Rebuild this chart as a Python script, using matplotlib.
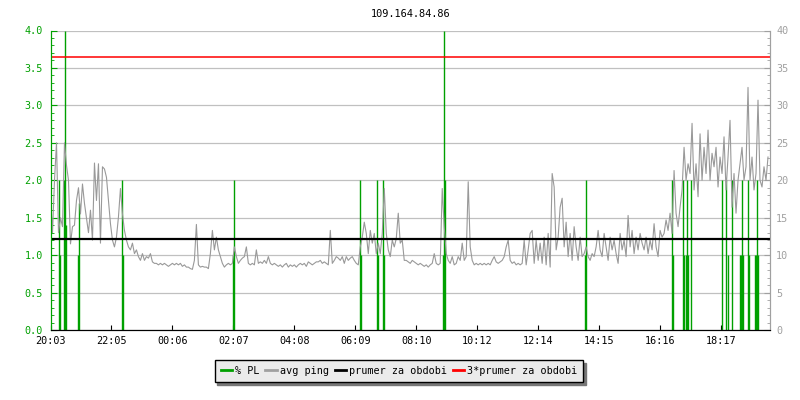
"""Packet loss and average ping for 109.164.84.86 over one day."""
import matplotlib

matplotlib.use("Agg")
import matplotlib.pyplot as plt
import numpy as np
from matplotlib.ticker import MultipleLocator, FormatStrFormatter

# ----------------
# data begin
title = "109.164.84.86"

# tick labels, one every 122 minutes starting at 20:03
time_labels = ["20:03", "22:05", "00:06", "02:07", "04:08", "06:09",
               "08:10", "10:12", "12:14", "14:15", "16:16", "18:17"]
tick_step_min = 122
span_min = 1440

# avg ping [ms], one sample every 4 minutes from 20:03
ping_step_min = 4
avg_ping = [
    18.0, 13.0, 20.0, 25.0, 13.0, 15.0, 13.8, 25.0, 22.0, 20.0, 11.5, 13.8, 14.0, 17.3, 19.0, 15.5, 19.5, 16.9, 15.0, 13.0,
    16.0, 12.0, 22.3, 17.3, 22.2, 11.6, 21.8, 21.5, 20.4, 17.3, 14.2, 12.0, 11.1, 12.4, 15.1, 18.9, 15.5, 13.3, 12.0, 11.1,
    10.7, 11.6, 10.2, 10.7, 9.8, 9.3, 10.2, 9.3, 9.8, 9.6, 10.2, 9.1, 8.9, 8.9, 8.7, 8.9, 8.7, 8.9, 8.7, 8.5,
    8.7, 8.9, 8.7, 8.9, 8.7, 8.9, 8.5, 8.7, 8.4, 8.4, 8.2, 8.1, 9.3, 14.1, 8.7, 8.4, 8.5, 8.4, 8.4, 8.2,
    10.2, 13.3, 10.7, 12.4, 10.7, 9.8, 8.9, 8.4, 8.7, 8.9, 8.7, 8.9, 11.1, 9.8, 8.9, 9.3, 9.6, 9.8, 11.1, 8.9,
    8.7, 8.9, 8.7, 10.7, 8.9, 9.1, 8.9, 9.3, 8.9, 9.8, 8.9, 8.7, 8.9, 8.7, 8.5, 8.7, 8.4, 8.7, 8.9, 8.4,
    8.7, 8.5, 8.7, 8.4, 8.7, 8.9, 8.7, 8.9, 8.5, 9.1, 8.9, 8.7, 8.9, 9.1, 9.1, 9.3, 8.9, 9.1, 8.9, 8.7,
    13.3, 8.9, 9.3, 9.8, 9.6, 9.3, 9.8, 8.9, 9.8, 9.3, 9.6, 9.8, 9.3, 8.9, 8.7, 11.1, 12.4, 14.4, 12.9, 10.2,
    13.3, 11.6, 12.9, 10.2, 11.6, 10.2, 12.9, 18.9, 12.9, 10.7, 9.8, 12.0, 11.1, 12.2, 15.6, 11.6, 12.0, 9.3, 9.3, 9.1,
    8.9, 9.3, 9.1, 8.9, 8.7, 8.9, 8.7, 8.5, 8.7, 8.4, 8.7, 8.9, 10.2, 8.9, 8.7, 8.9, 18.9, 13.8, 10.2, 9.3,
    8.9, 9.8, 8.7, 8.9, 9.8, 9.3, 11.6, 9.3, 9.8, 19.8, 11.1, 9.3, 8.7, 8.9, 8.7, 8.9, 8.7, 8.9, 8.7, 8.9,
    8.7, 9.3, 9.8, 9.1, 8.9, 9.1, 9.3, 9.8, 11.1, 12.0, 9.3, 8.9, 9.1, 8.7, 8.9, 8.7, 8.9, 12.0, 8.7, 10.7,
    12.9, 13.3, 8.9, 12.0, 9.3, 11.6, 8.9, 12.4, 8.7, 12.9, 8.4, 20.9, 19.1, 10.7, 12.4, 16.4, 17.6, 11.1, 14.4, 9.8,
    12.9, 9.3, 13.8, 11.1, 9.3, 12.4, 9.8, 10.2, 11.1, 9.8, 9.3, 10.2, 9.8, 11.1, 13.3, 10.7, 9.8, 12.9, 11.1, 9.3,
    12.4, 10.7, 12.0, 10.2, 8.9, 12.9, 10.7, 12.0, 9.8, 15.3, 11.1, 13.3, 10.2, 12.4, 10.7, 12.9, 11.6, 10.7, 12.4, 10.2,
    12.0, 10.7, 14.2, 11.1, 9.8, 13.3, 12.4, 12.9, 14.7, 13.3, 15.6, 12.9, 21.3, 15.6, 13.8, 16.4, 18.7, 24.4, 20.0, 22.2,
    20.9, 27.6, 18.7, 22.2, 17.8, 26.2, 20.0, 24.4, 20.9, 26.7, 20.0, 23.6, 21.8, 24.4, 19.1, 23.1, 20.9, 25.8, 18.7, 23.1,
    28.0, 16.4, 20.9, 15.6, 20.0, 22.2, 24.4, 20.0, 21.8, 32.4, 20.0, 23.1, 18.7, 20.9, 30.7, 20.0, 19.1, 21.8, 20.0, 23.1,
]

# packet loss [%]: minutes after 20:03 and value
pl_minutes = [18, 20, 28, 30, 32, 56, 58, 144, 146, 366, 368, 620, 622,
              654, 656, 666, 668, 786, 788, 790, 1070, 1072, 1244, 1246,
              1266, 1268, 1272, 1274, 1276, 1282, 1344, 1352, 1356, 1364,
              1380, 1382, 1384, 1386, 1396, 1398, 1410, 1412, 1414, 1416]
pl_values = [2.0, 1.0, 2.0, 4.0, 1.4, 1.0, 1.7, 2.0, 1.0, 1.0, 2.0, 2.0, 1.0,
             2.0, 1.0, 2.0, 1.0, 1.0, 4.0, 2.0, 1.0, 2.0, 2.0, 1.0,
             2.0, 1.0, 1.0, 2.0, 1.0, 2.0, 2.0, 2.0, 1.0, 2.0,
             1.0, 1.0, 2.0, 1.0, 2.0, 1.0, 1.0, 1.0, 2.0, 1.0]

# average ping for the whole period [ms]
ping_mean = 12.17
# data end
# --------------

green = "#00a000"
gray = "#a0a0a0"
font = "DejaVu Sans Mono"


def main():
    plt.rcParams["font.family"] = font
    plt.rcParams["font.size"] = 7.3

    fig = plt.figure(figsize=(8, 4), dpi=100)
    ax = fig.add_axes([50.5 / 800, 70 / 400, 719.5 / 800, 299.5 / 400])
    ax2 = ax.twinx()

    # packet loss on the left axis
    ax.vlines(pl_minutes, 0, pl_values, color=green, linewidth=1.0)
    ax.set_ylim(0, 4.0)
    ax.set_xlim(0, span_min)
    ax.yaxis.set_major_locator(MultipleLocator(0.5))
    ax.yaxis.set_minor_locator(MultipleLocator(0.1))
    ax.yaxis.set_major_formatter(FormatStrFormatter("%.1f"))
    ax.grid(True, axis="y", color="#c0c0c0", linewidth=0.9)
    ax.set_axisbelow(True)

    # avg ping on the right axis
    t_ping = np.arange(len(avg_ping)) * ping_step_min
    ax2.plot(t_ping, avg_ping, color="#999999", linewidth=0.8)
    ax2.axhline(ping_mean, color="black", linewidth=1.6)
    ax2.axhline(3 * ping_mean, color="#ff0000", linewidth=1.1)
    ax2.set_ylim(0, 40)
    ax2.yaxis.set_major_locator(MultipleLocator(5))
    ax2.yaxis.set_minor_locator(MultipleLocator(1))

    ticks = [i * tick_step_min for i in range(len(time_labels))]
    ax.set_xticks(ticks)
    ax.set_xticklabels(time_labels)

    ax.tick_params(axis="y", which="both", direction="in", colors=green,
                   labelcolor=green, pad=5.4)
    ax.tick_params(axis="y", which="major", length=4)
    ax.tick_params(axis="y", which="minor", length=2.5)
    ax.tick_params(axis="x", direction="in", length=3.5, pad=4, colors="black")
    ax2.tick_params(axis="y", which="both", direction="in", colors=gray,
                    labelcolor=gray, pad=4.5)
    ax2.tick_params(axis="y", which="major", length=4)
    ax2.tick_params(axis="y", which="minor", length=2.5)

    for a in (ax, ax2):
        a.spines["top"].set_visible(False)
        a.spines["left"].set_color(green)
        a.spines["right"].set_color(gray)
        a.spines["bottom"].set_color("black")

    ax.set_title(title, fontsize=7.4, pad=10)

    handles = [
        plt.Line2D([], [], color=green, linewidth=2),
        plt.Line2D([], [], color=gray, linewidth=2),
        plt.Line2D([], [], color="black", linewidth=2),
        plt.Line2D([], [], color="#ff0000", linewidth=2),
    ]
    labels = ["% PL", "avg ping", "prumer za obdobi", "3*prumer za obdobi"]
    leg = fig.legend(handles, labels, loc="center", ncol=4,
                     bbox_to_anchor=(399 / 800, 1 - 371 / 400),
                     handlelength=1.1, handletextpad=0.3, columnspacing=0.6,
                     borderpad=0.6, fancybox=False, framealpha=1,
                     facecolor="#ebebeb", edgecolor="black",
                     shadow={"color": "#777777", "alpha": 1.0})
    leg.get_frame().set_linewidth(1.0)

    fig.savefig("out.png", dpi=100)


if __name__ == "__main__":
    main()
